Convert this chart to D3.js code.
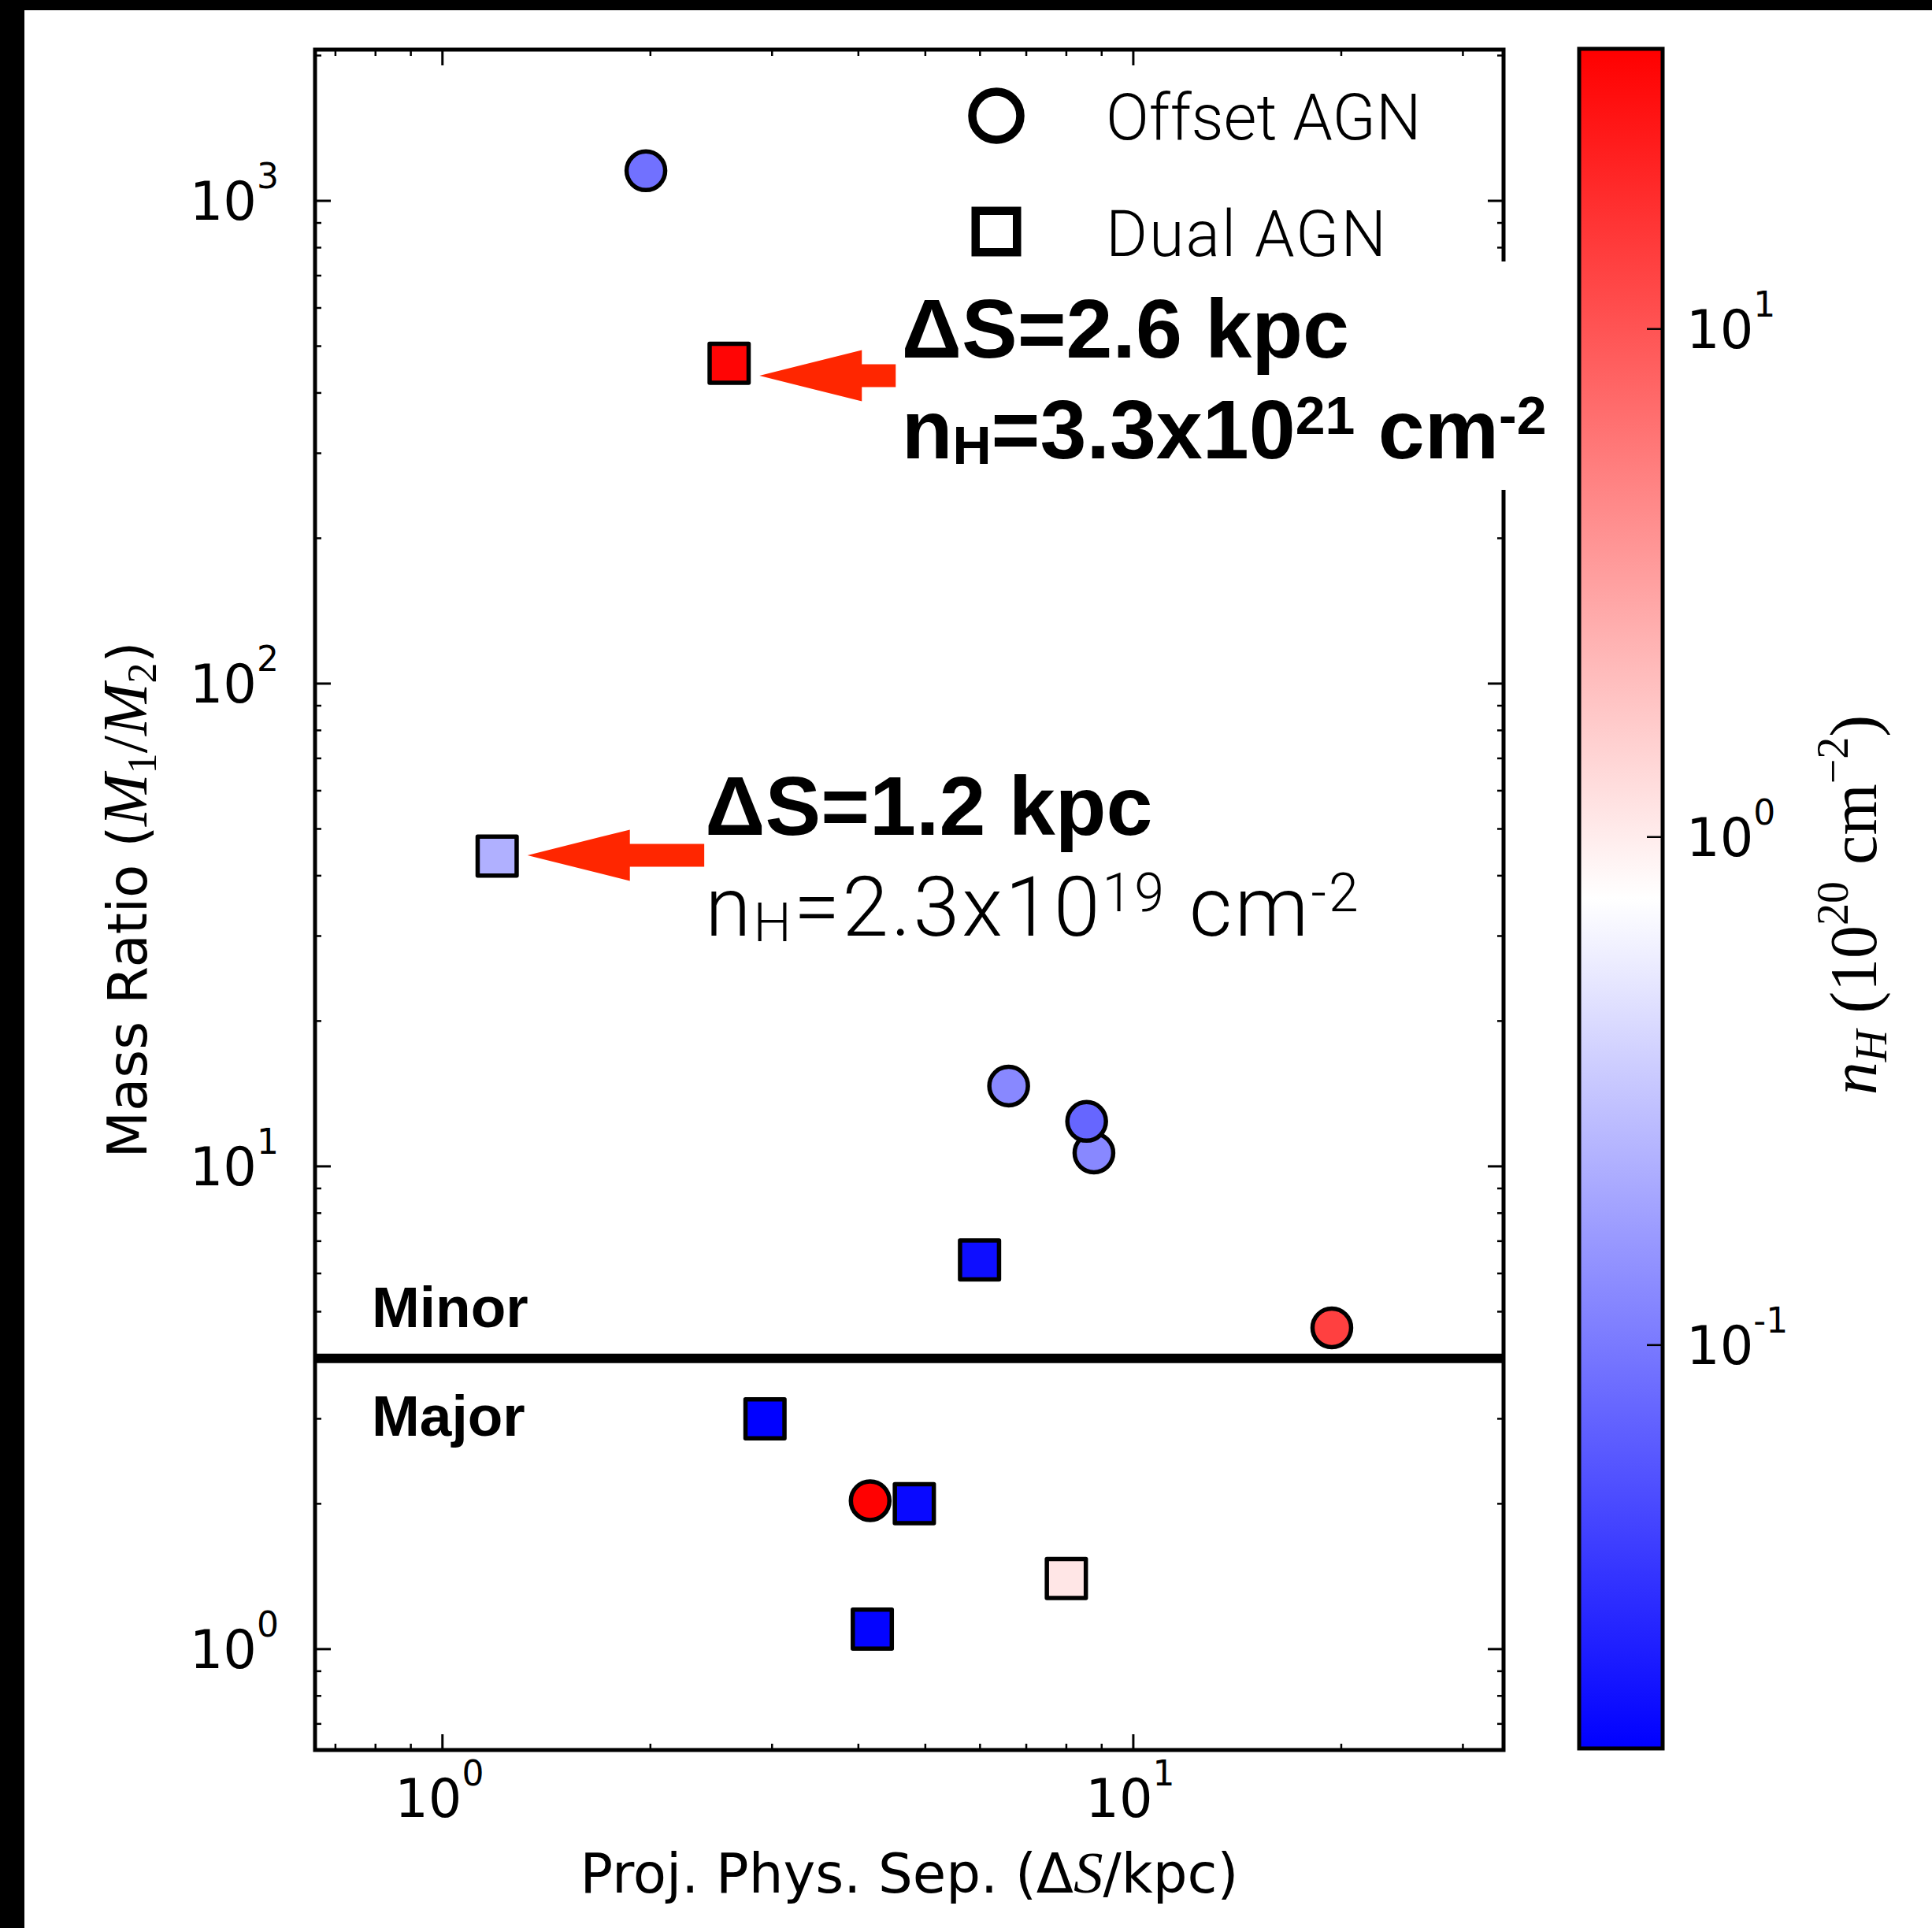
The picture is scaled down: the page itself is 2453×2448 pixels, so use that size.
<!DOCTYPE html>
<html>
<head>
<meta charset="utf-8">
<script src="https://cdn.jsdelivr.net/npm/d3@7"></script>
<style>
  html, body { margin: 0; padding: 0; background: #fff; }
  svg { display: block; }
</style>
</head>
<body>
<svg id="chart" width="2453" height="2448"></svg>
<script>
// ---- data ------------------------------------------------------------
// Offset AGN (circles): projected separation (kpc), mass ratio, n_H (1e20 cm^-2)
const offsetSep   = [1.97, 6.60, 8.77, 8.56, 19.38, 4.16];
const offsetRatio = [1154, 14.67, 10.66, 12.39, 4.63, 2.03];
const offsetNH    = [0.088, 0.126, 0.126, 0.075, 13.6, 35.0];

// Dual AGN (squares)
const dualSep   = [2.6, 1.2, 5.99, 2.93, 4.82, 8.0, 4.19];
const dualRatio = [461, 43.9, 6.40, 3.00, 2.00, 1.40, 1.10];
const dualNH    = [33, 0.23, 0.020, 0.0162, 0.0185, 1.10, 0.0172];

// axis extents and ticks
const xDomain = [0.654, 34.35];
const yDomain = [0.618, 2057];
const nhDomain = [0.01607, 35.6];
const xMajorTicks = [1, 10];
const yMajorTicks = [1, 10, 100, 1000];
const cbarTicks = [0.1, 1, 10];

// major / minor merger divide
const mergerDivide = 4;
const regionLabels = ["Minor", "Major"];

// call-outs (index into the dual arrays, text anchor in data units, arrow height)
const calloutIndex = [0, 1];
const calloutTextX = [4.62, 2.40];
const calloutTextY = [473.6, 48.6];
const calloutArrowY = [434.4, 44.1];
const calloutTailX = [4.53, 2.393];
const calloutLine1 = ["ΔS=2.6 kpc", "ΔS=1.2 kpc"];
const calloutNH = [["3.3", "21"], ["2.3", "19"]];
const calloutBold2 = [true, false];

// ---- layout ----------------------------------------------------------
const plot = { left: 400, right: 1909, top: 63, bottom: 2222 };
const cbar = { left: 2005, right: 2111, top: 62, bottom: 2220 };

const svg = d3.select("#chart");
svg.append("rect").attr("width", 2453).attr("height", 2448).attr("fill", "#fff");

const x = d3.scaleLog().domain(xDomain).range([plot.left, plot.right]);
const y = d3.scaleLog().domain(yDomain).range([plot.bottom, plot.top]);
const nhNorm = d3.scaleLog().domain(nhDomain).range([0, 1]).clamp(true);
const bwr = d3.scaleLinear().domain([0, 0.5, 1]).range(["#0000ff", "#ffffff", "#ff0000"]);
const colour = v => bwr(nhNorm(v));
const cy = d3.scaleLog().domain(nhDomain).range([cbar.bottom, cbar.top]);

const SANS = "'DejaVu Sans', sans-serif";
const HELV = "'Liberation Sans', Arial, sans-serif";
const LIGHT = "Roboto, 'Liberation Sans', sans-serif";
const SERIF = "'Liberation Serif', 'DejaVu Serif', serif";

// text with super/subscripts: parts = [{t, shift, size, family, style, weight}]
function rich(parent, parts, attrs) {
  const t = parent.append("text");
  Object.entries(attrs).forEach(([k, v]) => t.attr(k, v));
  let cur = 0;
  parts.forEach(p => {
    const s = p.shift || 0;
    const ts = t.append("tspan").text(p.t);
    if (s !== cur) ts.attr("dy", -(s - cur));
    cur = s;
    if (p.size) ts.attr("font-size", p.size);
    if (p.family) ts.attr("font-family", p.family);
    if (p.style) ts.attr("font-style", p.style);
    if (p.weight) ts.attr("font-weight", p.weight);
  });
  return t;
}

// ---- page frame ------------------------------------------------------
svg.append("rect").attr("x", 0).attr("y", 0).attr("width", 31).attr("height", 2448).attr("fill", "#000");
svg.append("rect").attr("x", 0).attr("y", 0).attr("width", 2453).attr("height", 13).attr("fill", "#000");

// ---- ticks -----------------------------------------------------------
const axisG = svg.append("g");
const isMajor = v => Math.abs(Math.log10(v) - Math.round(Math.log10(v))) < 1e-9;
const xTicksAll = x.ticks().filter(v => v >= xDomain[0] && v <= xDomain[1]);
const yTicksAll = y.ticks().filter(v => v >= yDomain[0] && v <= yDomain[1]);

xTicksAll.forEach(v => {
  const len = isMajor(v) ? 20 : 8, w = isMajor(v) ? 3 : 2.5, px = x(v);
  axisG.append("line").attr("x1", px).attr("x2", px).attr("y1", plot.bottom).attr("y2", plot.bottom - len)
    .attr("stroke", "#000").attr("stroke-width", w);
  axisG.append("line").attr("x1", px).attr("x2", px).attr("y1", plot.top).attr("y2", plot.top + len)
    .attr("stroke", "#000").attr("stroke-width", w);
});
yTicksAll.forEach(v => {
  const len = isMajor(v) ? 20 : 8, w = isMajor(v) ? 3 : 2.5, py = y(v);
  axisG.append("line").attr("x1", plot.left).attr("x2", plot.left + len).attr("y1", py).attr("y2", py)
    .attr("stroke", "#000").attr("stroke-width", w);
  axisG.append("line").attr("x1", plot.right).attr("x2", plot.right - len).attr("y1", py).attr("y2", py)
    .attr("stroke", "#000").attr("stroke-width", w);
});

// spines
axisG.append("rect").attr("x", plot.left).attr("y", plot.top)
  .attr("width", plot.right - plot.left).attr("height", plot.bottom - plot.top)
  .attr("fill", "none").attr("stroke", "#000").attr("stroke-width", 5);

// tick labels
xMajorTicks.forEach(v => {
  rich(svg, [{ t: "10" }, { t: String(Math.round(Math.log10(v))), shift: 40, size: 44 }],
    { x: x(v) - 4, y: 2307, "text-anchor": "middle", "font-family": SANS, "font-size": 67, fill: "#000" });
});
yMajorTicks.forEach(v => {
  rich(svg, [{ t: "10" }, { t: String(Math.round(Math.log10(v))), shift: 40, size: 44 }],
    { x: 354, y: y(v) + 24, "text-anchor": "end", "font-family": SANS, "font-size": 67, fill: "#000" });
});

// axis titles
rich(svg, [
  { t: "Proj. Phys. Sep. (Δ" },
  { t: "S", family: SERIF, style: "italic", size: 75 },
  { t: "/kpc)" }
], { x: (plot.left + plot.right) / 2, y: 2403, "text-anchor": "middle", "font-family": SANS, "font-size": 69, fill: "#000" });

rich(svg.append("g").attr("transform", `translate(186,${(plot.top + plot.bottom) / 2}) rotate(-90)`), [
  { t: "Mass Ratio (" },
  { t: "M", family: SERIF, style: "italic", size: 80 },
  { t: "1", family: SERIF, size: 52, shift: -12 },
  { t: "/", family: SERIF, size: 80 },
  { t: "M", family: SERIF, style: "italic", size: 80 },
  { t: "2", family: SERIF, size: 52, shift: -12 },
  { t: ")" }
], { x: 0, y: 0, "text-anchor": "middle", "font-family": SANS, "font-size": 69, fill: "#000" });

// ---- divide between minor and major mergers --------------------------
svg.append("line").attr("x1", plot.left).attr("x2", plot.right)
  .attr("y1", y(mergerDivide)).attr("y2", y(mergerDivide))
  .attr("stroke", "#000").attr("stroke-width", 12);
svg.append("text").attr("x", 472).attr("y", y(mergerDivide) - 40).text(regionLabels[0])
  .attr("font-family", HELV).attr("font-weight", "bold").attr("font-size", 73).attr("fill", "#000");
svg.append("text").attr("x", 472).attr("y", y(mergerDivide) + 98).text(regionLabels[1])
  .attr("font-family", HELV).attr("font-weight", "bold").attr("font-size", 73).attr("fill", "#000");

// ---- markers ---------------------------------------------------------
const circleR = 24.5, squareSide = 49.5, edge = 5.5;
const offsets = offsetSep.map((s, i) => ({ s, r: offsetRatio[i], nh: offsetNH[i] }));
const duals = dualSep.map((s, i) => ({ s, r: dualRatio[i], nh: dualNH[i] }));

svg.append("g").selectAll("circle").data(offsets).join("circle")
  .attr("cx", d => x(d.s)).attr("cy", d => y(d.r)).attr("r", circleR)
  .attr("fill", d => colour(d.nh)).attr("stroke", "#000").attr("stroke-width", edge);

svg.append("g").selectAll("rect").data(duals).join("rect")
  .attr("x", d => x(d.s) - squareSide / 2).attr("y", d => y(d.r) - squareSide / 2)
  .attr("width", squareSide).attr("height", squareSide)
  .attr("fill", d => colour(d.nh)).attr("stroke", "#000").attr("stroke-width", edge)
  .attr("stroke-linejoin", "round");

// ---- legend ----------------------------------------------------------
const legG = svg.append("g");
legG.append("circle").attr("cx", 1265).attr("cy", 147).attr("r", 30.5)
  .attr("fill", "#fff").attr("stroke", "#000").attr("stroke-width", 10.5);
legG.append("rect").attr("x", 1265 - 26.25).attr("y", 294 - 26.25).attr("width", 52.5).attr("height", 52.5)
  .attr("fill", "#fff").attr("stroke", "#000").attr("stroke-width", 10.5);
legG.append("text").attr("x", 1404).attr("y", 177).text("Offset AGN")
  .attr("font-family", LIGHT).attr("font-weight", 300).attr("font-size", 81).attr("fill", "#000");
legG.append("text").attr("x", 1404).attr("y", 325).text("Dual AGN")
  .attr("font-family", LIGHT).attr("font-weight", 300).attr("font-size", 81)
  .attr("letter-spacing", 2).attr("fill", "#000");

// ---- call-outs -------------------------------------------------------
// white box behind the upper call-out (it sits across the right spine)
svg.append("rect").attr("x", 1122).attr("y", 332).attr("width", 872).attr("height", 290).attr("fill", "#fff");

calloutIndex.forEach((idx, k) => {
  const g = svg.append("g");
  const tipX = x(dualSep[idx]) + squareSide / 2 + edge / 2 + 11;
  const tailX = x(calloutTailX[k]);
  const ay = y(calloutArrowY[k]);
  const headLen = 130, headHalf = 32.5, shaftHalf = 14.5;
  const baseX = Math.min(tipX + headLen, tailX - 4);
  const pts = [
    [tipX, ay], [baseX, ay - headHalf], [baseX, ay - shaftHalf], [tailX, ay - shaftHalf],
    [tailX, ay + shaftHalf], [baseX, ay + shaftHalf], [baseX, ay + headHalf]
  ];
  g.append("polygon").attr("points", pts.map(p => p.join(",")).join(" ")).attr("fill", "#ff2600");

  const tx = x(calloutTextX[k]), ty = y(calloutTextY[k]);
  g.append("text").attr("x", tx).attr("y", ty).text(calloutLine1[k])
    .attr("font-family", HELV).attr("font-weight", "bold").attr("font-size", 106).attr("fill", "#000");

  const bold = calloutBold2[k];
  rich(g, [
    { t: "n" },
    { t: "H", size: 68, shift: -7 },
    { t: "=" + calloutNH[k][0] + "x10" },
    { t: calloutNH[k][1], size: 68, shift: 31 },
    { t: " cm" },
    { t: "-2", size: 68, shift: 31 }
  ], {
    x: tx, y: ty + 128,
    "font-family": bold ? HELV : LIGHT, "font-weight": bold ? "bold" : 300,
    "font-size": bold ? 106 : 106, "letter-spacing": bold ? 0 : 3, fill: "#000"
  });
});

// ---- colour bar ------------------------------------------------------
const defs = svg.append("defs");
const grad = defs.append("linearGradient").attr("id", "nhGrad")
  .attr("x1", 0).attr("y1", 1).attr("x2", 0).attr("y2", 0);
d3.range(0, 1.0001, 0.05).forEach(f => {
  grad.append("stop").attr("offset", f).attr("stop-color", bwr(f));
});
svg.append("rect").attr("x", cbar.left).attr("y", cbar.top)
  .attr("width", cbar.right - cbar.left).attr("height", cbar.bottom - cbar.top)
  .attr("fill", "url(#nhGrad)");
cbarTicks.forEach(v => {
  svg.append("line").attr("x1", cbar.right - 20).attr("x2", cbar.right).attr("y1", cy(v)).attr("y2", cy(v))
    .attr("stroke", "#000").attr("stroke-width", 2.5);
  rich(svg, [{ t: "10" }, { t: String(Math.round(Math.log10(v))), shift: 40, size: 44 }],
    { x: 2141, y: cy(v) + 24, "font-family": SANS, "font-size": 67, fill: "#000" });
});
svg.append("rect").attr("x", cbar.left).attr("y", cbar.top)
  .attr("width", cbar.right - cbar.left).attr("height", cbar.bottom - cbar.top)
  .attr("fill", "none").attr("stroke", "#000").attr("stroke-width", 5);

rich(svg.append("g").attr("transform", `translate(2382,${(cbar.top + cbar.bottom) / 2 + 8}) rotate(-90)`), [
  { t: "n", style: "italic" },
  { t: "H", style: "italic", size: 56, shift: -13 },
  { t: " (10" },
  { t: "20", size: 56, shift: 36 },
  { t: " cm" },
  { t: "−2", size: 56, shift: 36 },
  { t: ")" }
], { x: 0, y: 0, "text-anchor": "middle", "font-family": SERIF, "font-size": 84, fill: "#000" });
</script>
</body>
</html>
